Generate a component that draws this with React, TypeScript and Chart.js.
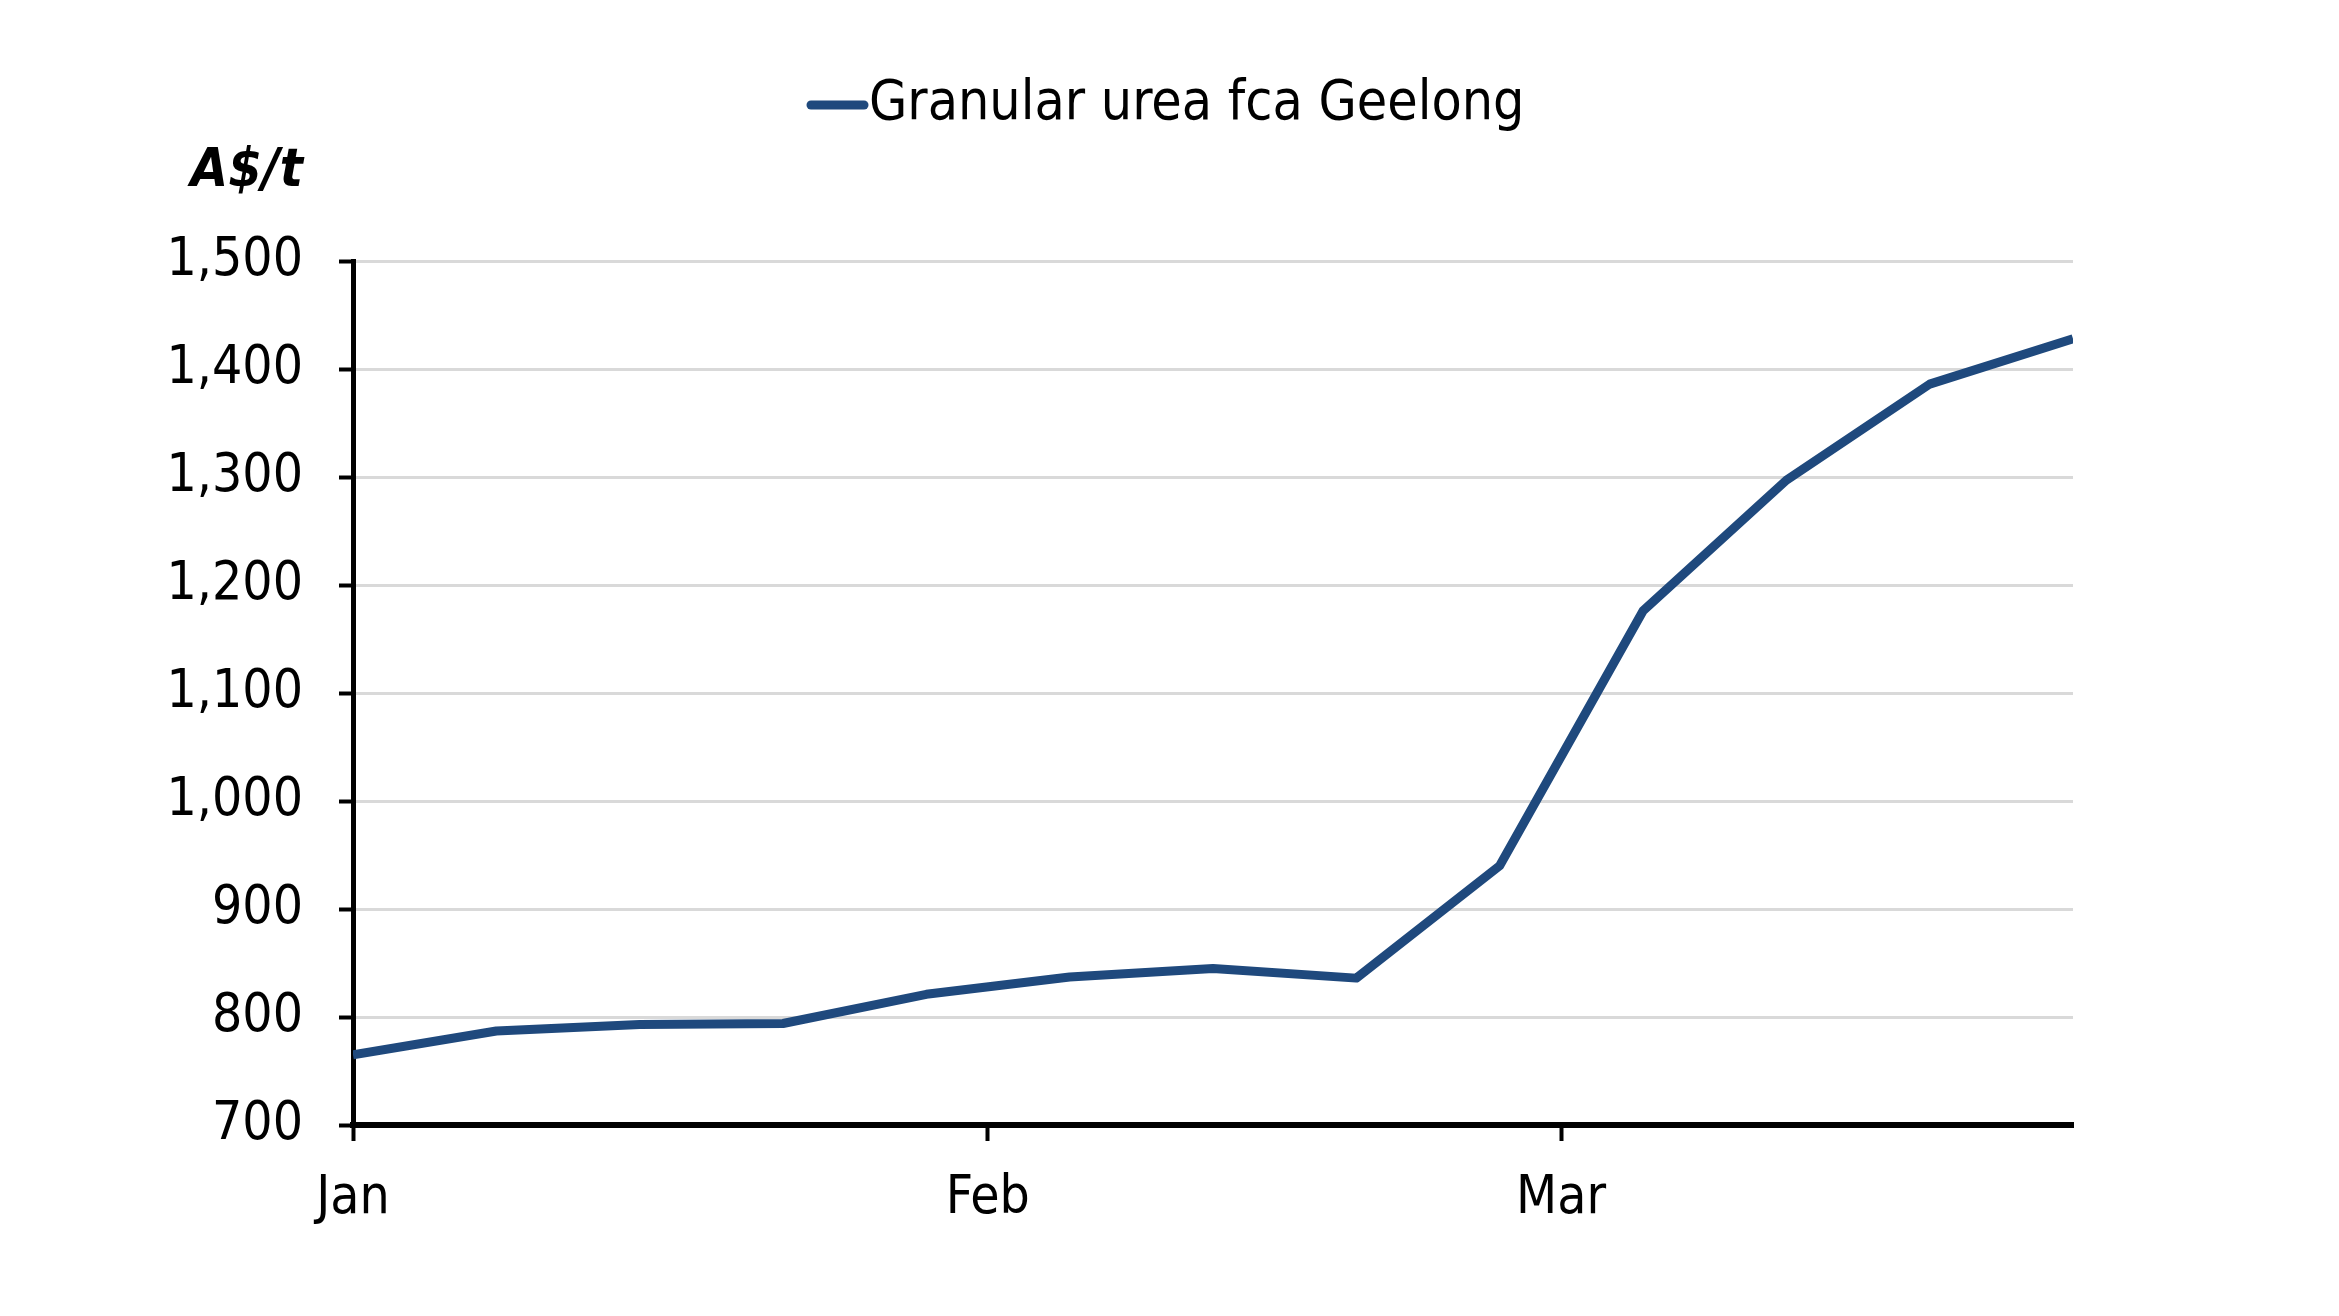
import React, { useEffect, useRef } from "react";
import { Chart, registerables } from "chart.js";

Chart.register(...registerables);

// ---- data ----
const seriesLabel = "Granular urea fca Geelong";
const unitLabel = "A$/t";
const dates = [
  "2022-01-01", "2022-01-08", "2022-01-15", "2022-01-22", "2022-01-29",
  "2022-02-05", "2022-02-12", "2022-02-19", "2022-02-26", "2022-03-05",
  "2022-03-12", "2022-03-19", "2022-03-26",
];
const prices = [765, 787, 793, 794, 821, 837, 845, 836, 940, 1176, 1297, 1386, 1428];
const monthStarts = ["2022-01-01", "2022-02-01", "2022-03-01"];
const monthLabels = ["Jan", "Feb", "Mar"];
const yMin = 700;
const yMax = 1500;
const yStep = 100;

const LINE_COLOR = "#1f497d";
const FONT = "'DejaVu Sans Condensed', 'Liberation Sans Narrow', 'DejaVu Sans', sans-serif";

const dayOffset = (d: string) =>
  Math.round((Date.parse(d + "T00:00:00Z") - Date.parse(dates[0] + "T00:00:00Z")) / 86400000);

const W = 2339;
const H = 1316;

const overlayPlugin = {
  id: "overlayText",
  afterDraw(chart: any) {
    const ctx = chart.ctx;
    ctx.save();
    // legend
    const ly = 105;
    ctx.strokeStyle = LINE_COLOR;
    ctx.lineWidth = 9;
    ctx.lineCap = "round";
    ctx.beginPath();
    ctx.moveTo(811, ly);
    ctx.lineTo(864, ly);
    ctx.stroke();
    ctx.fillStyle = "#000";
    ctx.font = `55px ${FONT}`;
    ctx.textAlign = "left";
    ctx.textBaseline = "middle";
    ctx.fillText(chart.data.datasets[0].label, 869, ly);
    // unit
    ctx.font = `italic bold 54px ${FONT}`;
    ctx.textAlign = "right";
    ctx.fillText(unitLabel, 303, 172);
    ctx.restore();
  },
};

export default function App() {
  const ref = useRef<HTMLCanvasElement | null>(null);
  useEffect(() => {
    if (!ref.current) return;
    const xs = dates.map(dayOffset);
    const tickVals = monthStarts.map(dayOffset);
    const chart = new Chart(ref.current, {
      type: "line",
      data: {
        datasets: [
          {
            label: seriesLabel,
            data: xs.map((x, i) => ({ x, y: prices[i] })),
            borderColor: LINE_COLOR,
            backgroundColor: LINE_COLOR,
            borderWidth: 9,
            pointRadius: 0,
            tension: 0,
            borderJoinStyle: "round",
          },
        ],
      },
      options: {
        responsive: false,
        animation: false,
        devicePixelRatio: 1,
        layout: { padding: { left: 0, right: 266, top: 261, bottom: 0 } },
        plugins: { legend: { display: false }, tooltip: { enabled: false } },
        scales: {
          x: {
            type: "linear",
            min: xs[0],
            max: xs[xs.length - 1],
            afterFit: (s: any) => {
              s.height = H - 1125;
            },
            afterBuildTicks: (s: any) => {
              s.ticks = tickVals.map((v) => ({ value: v }));
            },
            ticks: {
              autoSkip: false,
              maxRotation: 0,
              padding: 26,
              color: "#000",
              font: { family: FONT, size: 53 },
              callback: (v: any) => {
                const i = tickVals.indexOf(Number(v));
                return i >= 0 ? monthLabels[i] : "";
              },
            },
            grid: {
              drawOnChartArea: false,
              drawTicks: true,
              tickLength: 16,
              tickColor: "#000",
              tickWidth: 4,
            },
            border: { color: "#000", width: 6 },
          },
          y: {
            min: yMin,
            max: yMax,
            afterFit: (s: any) => {
              s.width = 353;
            },
            ticks: {
              stepSize: yStep,
              padding: 36,
              color: "#000",
              font: { family: FONT, size: 53 },
              callback: (v: any) => Number(v).toLocaleString("en-US"),
            },
            grid: {
              color: "#d9d9d9",
              lineWidth: 3,
              tickLength: 14,
              tickColor: "#000",
              tickWidth: 4,
            },
            border: { color: "#000", width: 5 },
          },
        },
      },
      plugins: [overlayPlugin],
    });
    return () => chart.destroy();
  }, []);
  return (
    <div style={{ position: "fixed", left: 0, top: 0, width: W, height: H, background: "#fff" }}>
      <canvas ref={ref} width={W} height={H} style={{ width: W, height: H, display: "block" }} />
    </div>
  );
}
